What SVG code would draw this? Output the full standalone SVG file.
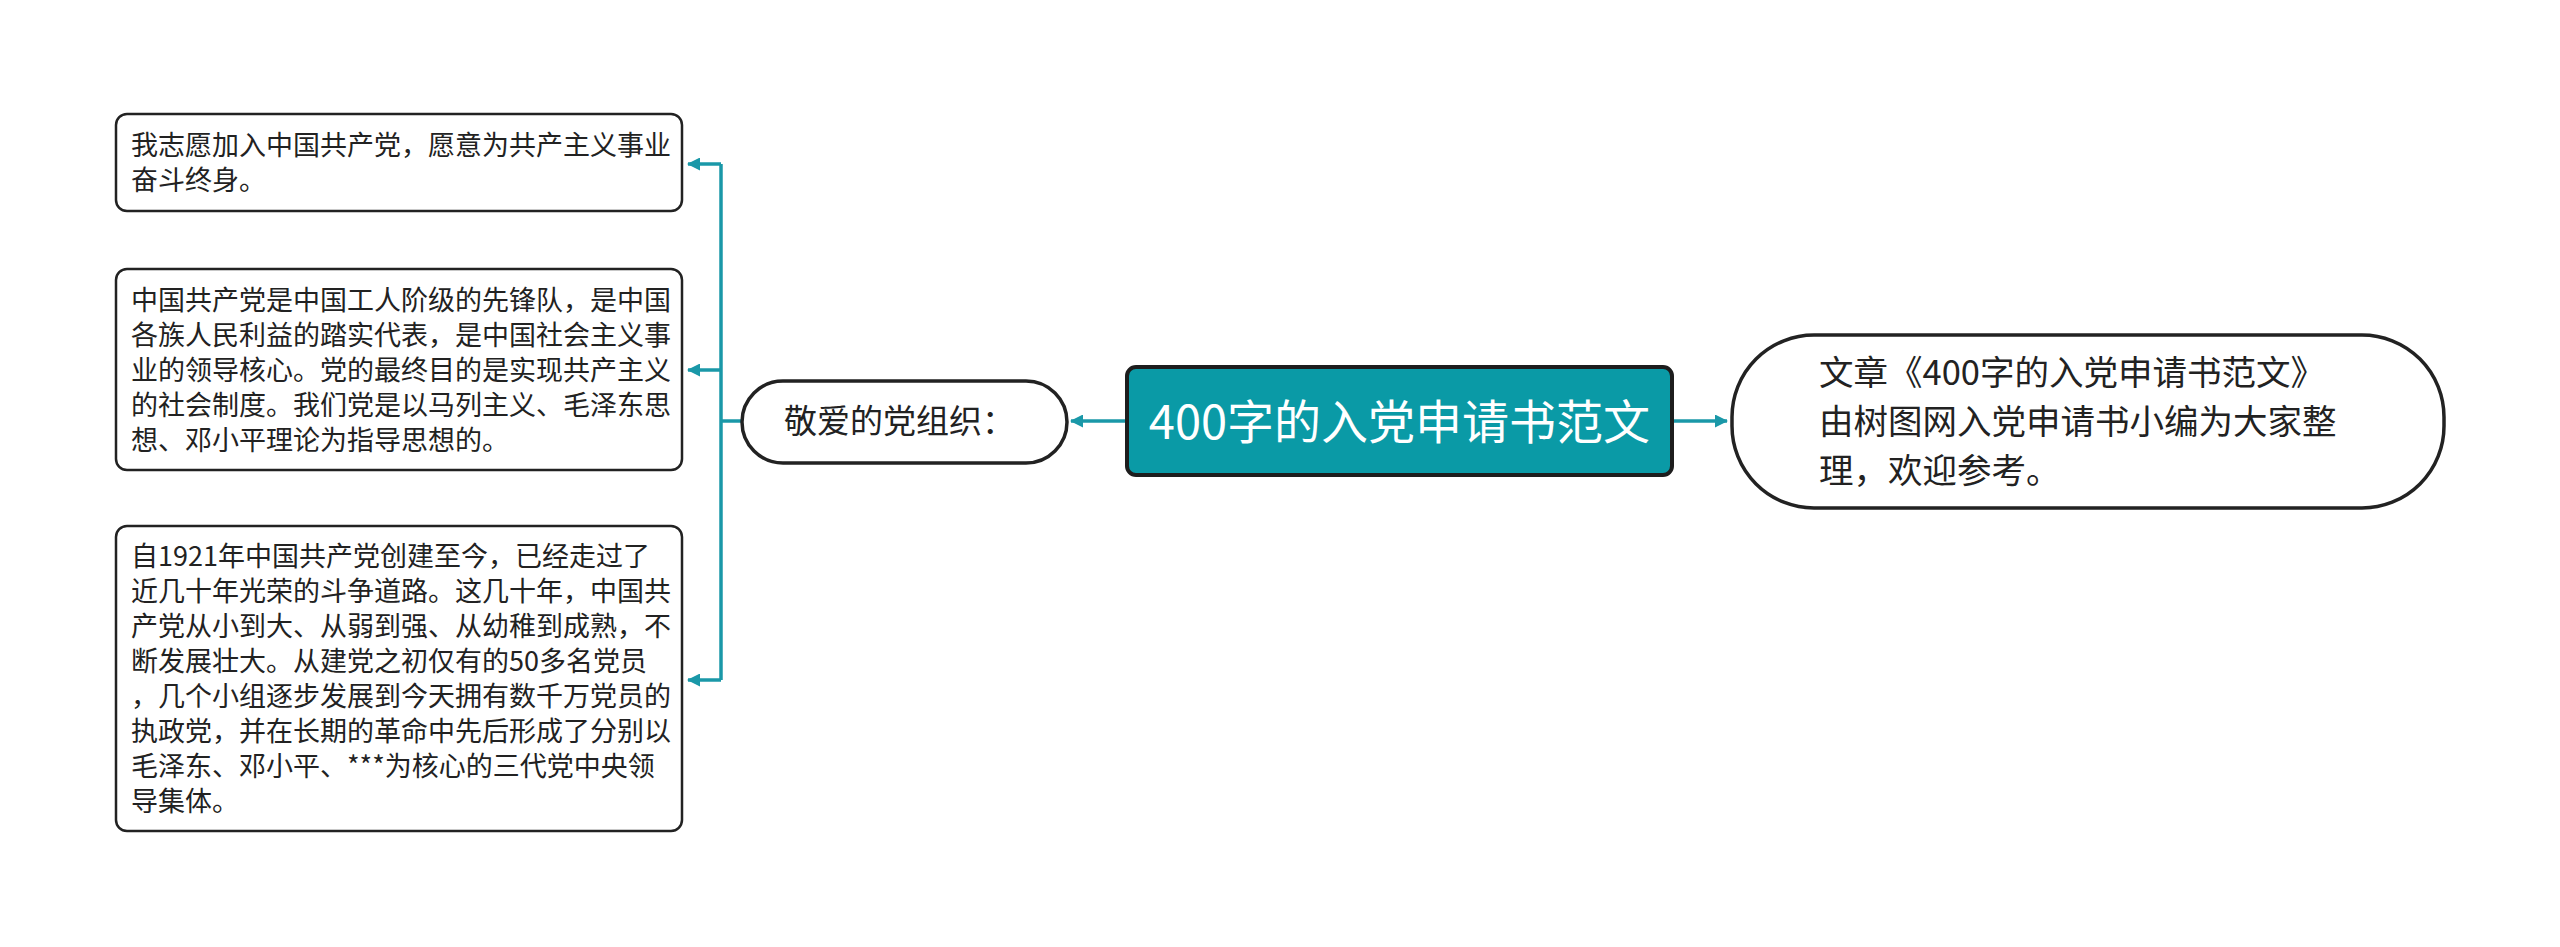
<svg xmlns="http://www.w3.org/2000/svg" width="2560" height="947" viewBox="0 0 2560 947">
<style>
text{font-family:"Noto Sans CJK SC","Noto Sans",sans-serif;fill:#222}
.box{fill:#fff;stroke:#222;stroke-width:2.5}
.leaf text{font-size:27px}
.conn{fill:none;stroke:#1a98a8;stroke-width:3.5}
</style>
<defs>
<marker id="ah" viewBox="0 0 13 13" refX="12" refY="6.5" markerWidth="13" markerHeight="13" markerUnits="userSpaceOnUse" orient="auto">
<path d="M0,0 L13,6.5 L0,13 Z" fill="#1a98a8"/>
</marker>
</defs>
<rect width="2560" height="947" fill="#fff"/>
<g id="connectors">
<path class="conn" d="M1127,421 H1071" marker-end="url(#ah)"/>
<path class="conn" d="M1672,421 H1727" marker-end="url(#ah)"/>
<path class="conn" d="M742,421 H721"/>
<path class="conn" d="M721,164 V680"/>
<path class="conn" d="M721,164 H688" marker-end="url(#ah)"/>
<path class="conn" d="M721,370 H688" marker-end="url(#ah)"/>
<path class="conn" d="M721,680 H688" marker-end="url(#ah)"/>
</g>
<g id="root">
<rect x="1127" y="367" width="545" height="108" rx="9" fill="#0a9aa6" stroke="#1d1d1d" stroke-width="4"/>
<text x="1399.5" y="439" font-size="47" text-anchor="middle" style="fill:#fff">400字的入党申请书范文</text>
</g>
<g id="desc">
<rect x="1732" y="335" width="712" height="173" rx="82" class="box" style="stroke-width:3.5"/>
<text font-size="34.5"><tspan x="1819" y="385">文章《400字的入党申请书范文》</tspan><tspan x="1819" y="434">由树图网入党申请书小编为大家整</tspan><tspan x="1819" y="483">理，欢迎参考。</tspan></text>
</g>
<g id="org">
<rect x="742" y="381" width="325" height="82" rx="41" class="box" style="stroke-width:3.5"/>
<text x="784" y="433" font-size="33">敬爱的党组织：</text>
</g>
<g id="leaf1" class="leaf">
<rect x="116" y="114" width="566" height="97" rx="11" class="box"/>
<text><tspan x="131" y="155">我志愿加入中国共产党，愿意为共产主义事业</tspan><tspan x="131" y="190">奋斗终身。</tspan></text>
</g>
<g id="leaf2" class="leaf">
<rect x="116" y="269" width="566" height="201" rx="11" class="box"/>
<text><tspan x="131" y="310">中国共产党是中国工人阶级的先锋队，是中国</tspan><tspan x="131" y="345">各族人民利益的踏实代表，是中国社会主义事</tspan><tspan x="131" y="380">业的领导核心。党的最终目的是实现共产主义</tspan><tspan x="131" y="415">的社会制度。我们党是以马列主义、毛泽东思</tspan><tspan x="131" y="450">想、邓小平理论为指导思想的。</tspan></text>
</g>
<g id="leaf3" class="leaf">
<rect x="116" y="526" width="566" height="305" rx="11" class="box"/>
<text><tspan x="131" y="566">自1921年中国共产党创建至今，已经走过了</tspan><tspan x="131" y="601">近几十年光荣的斗争道路。这几十年，中国共</tspan><tspan x="131" y="636">产党从小到大、从弱到强、从幼稚到成熟，不</tspan><tspan x="131" y="671">断发展壮大。从建党之初仅有的50多名党员</tspan><tspan x="131" y="706">，几个小组逐步发展到今天拥有数千万党员的</tspan><tspan x="131" y="741">执政党，并在长期的革命中先后形成了分别以</tspan><tspan x="131" y="776">毛泽东、邓小平、***为核心的三代党中央领</tspan><tspan x="131" y="811">导集体。</tspan></text>
</g>
</svg>
